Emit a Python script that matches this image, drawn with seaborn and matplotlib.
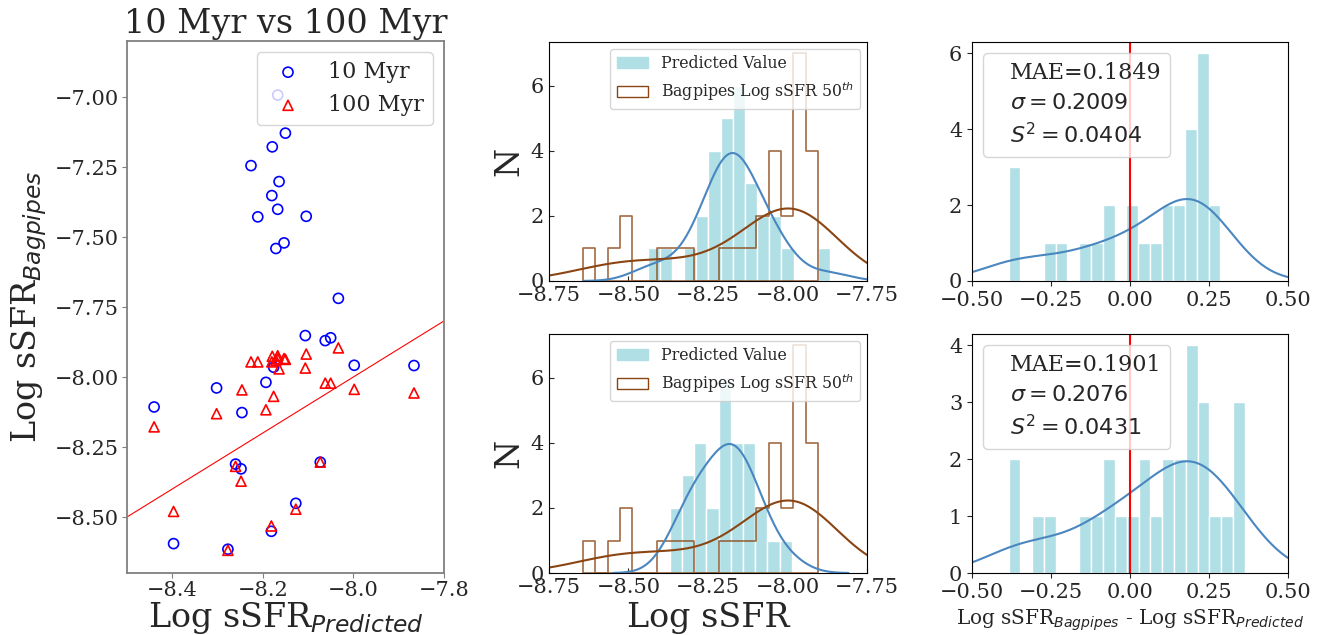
import numpy as np
import pandas as pd
import seaborn as sns
import matplotlib.pyplot as plt
from matplotlib.colors import to_rgba
from matplotlib.patches import Patch
from matplotlib.lines import Line2D

# scatter: predicted log sSFR vs bagpipes log sSFR for the two SFR timescales
pred = [-8.440, -8.397, -8.302, -8.277, -8.260, -8.248, -8.246, -8.226, -8.211, -8.193,
        -8.181, -8.180, -8.179, -8.176, -8.171, -8.167, -8.167, -8.164, -8.153, -8.150,
        -8.127, -8.106, -8.104, -8.073, -8.062, -8.050, -8.033, -7.998, -7.866]
bp_10 = [-8.107, -8.595, -8.039, -8.615, -8.311, -8.328, -8.127, -7.245, -7.428, -8.019,
         -8.551, -7.352, -7.178, -7.965, -7.541, -6.993, -7.401, -7.302, -7.521, -7.129,
         -8.451, -7.852, -7.426, -8.304, -7.870, -7.860, -7.719, -7.958, -7.959]
bp_100 = [-8.178, -8.480, -8.131, -8.619, -8.319, -8.372, -8.046, -7.946, -7.946, -8.117,
          -8.532, -7.946, -7.926, -8.069, -7.940, -7.924, -7.935, -7.971, -7.934, -7.937,
          -8.472, -7.968, -7.918, -8.304, -8.022, -8.022, -7.896, -8.044, -8.057]

# histograms
bagpipes_50 = [-8.643, -8.545, -8.515, -8.495, -8.385, -8.350, -8.310, -8.195, -8.155, -8.115,
               -8.085, -8.070, -8.050, -8.040, -8.030, -8.025, -8.005, -7.990, -7.975, -7.965,
               -7.960, -7.955, -7.950, -7.948, -7.946, -7.935, -7.925, -7.915, -7.904]
pred_100 = [-8.370, -8.345, -8.320, -8.310, -8.300, -8.285, -8.275, -8.268, -8.260, -8.240,
            -8.225, -8.210, -8.200, -8.195, -8.190, -8.185, -8.180, -8.170, -8.160, -8.155,
            -8.145, -8.135, -8.125, -8.115, -8.105, -8.090, -8.075, -8.045, -7.986]
diff_10 = [-0.384, -0.375, -0.365, -0.255, -0.215, -0.140, -0.105, -0.075, -0.060, 0.000,
           0.015, 0.045, 0.080, 0.110, 0.125, 0.150, 0.165, 0.180, 0.190, 0.200,
           0.205, 0.215, 0.220, 0.228, 0.235, 0.240, 0.245, 0.265, 0.286]
diff_100 = [-0.384, -0.370, -0.290, -0.255, -0.140, -0.105, -0.075, -0.060, -0.030, 0.010,
            0.040, 0.055, 0.085, 0.115, 0.130, 0.150, 0.165, 0.185, 0.195, 0.200,
            0.210, 0.220, 0.235, 0.245, 0.270, 0.305, 0.335, 0.350, 0.363]
stats_10 = 'MAE=0.1849\n$\\sigma=0.2009$\n$S^2=0.0404$'
stats_100 = 'MAE=0.1901\n$\\sigma=0.2076$\n$S^2=0.0431$'

LIGHT = '#b0dfe5'
KDE_BLUE = '#4a86c0'
BROWN = 'saddlebrown'

sns.set_style('ticks')
plt.rcParams['font.family'] = ['DejaVu Serif']
plt.rcParams['mathtext.fontset'] = 'dejavusans'

fig = plt.figure(figsize=(13.25, 6.35), dpi=100)

# ---- left: scatter ----
ax = fig.add_axes([0.0958, 0.0976, 0.2392, 0.8378])
sns.scatterplot(x=pred, y=bp_10, marker='o', s=52, facecolors='none', edgecolor='blue',
                linewidth=1.2, label='10 Myr', ax=ax)
sns.scatterplot(x=pred, y=bp_100, marker='^', s=52, facecolors='none', edgecolor='red',
                linewidth=1.2, label='100 Myr', ax=ax)
ax.set_xlim(-8.5, -7.8)
ax.set_ylim(-8.7, -6.8)
lo = ax.get_xlim()[0]
ax.axline((lo, lo), slope=1, color='red', linewidth=0.8)
ax.set_xticks([-8.4, -8.2, -8.0, -7.8])
ax.set_yticks([-7.0, -7.25, -7.5, -7.75, -8.0, -8.25, -8.5])
ax.set_yticklabels(['−7.00', '−7.25', '−7.50', '−7.75', '−8.00', '−8.25', '−8.50'])
ax.tick_params(labelsize=15, color='gray', pad=2)
for s in ax.spines.values():
    s.set_color('gray')
    s.set_linewidth(1.3)
ax.set_title('10 Myr vs 100 Myr', fontsize=24)
ax.set_xlabel('Log sSFR$_{Predicted}$', fontsize=24, labelpad=0)
ax.set_ylabel('Log sSFR$_{Bagpipes}$', fontsize=24)
ax.legend(loc='upper right', fontsize=16)

# ---- middle: histograms of predicted vs bagpipes ----
def mid_panel(rect, predicted, nbins, bw, xlabel):
    ax = fig.add_axes(rect)
    sns.histplot(x=predicted, bins=nbins, color=LIGHT, edgecolor='white', linewidth=1,
                 alpha=1, kde=True, kde_kws={'cut': 3, 'bw_adjust': bw},
                 line_kws={'linewidth': 1.5}, ax=ax)
    ax.lines[-1].set_color(KDE_BLUE)
    sns.histplot(x=bagpipes_50, bins=19, element='step', fill=True, color=BROWN,
                 facecolor='none', edgecolor=to_rgba(BROWN, 0.8), linewidth=1.2,
                 kde=True, kde_kws={'cut': 3, 'bw_adjust': 1.2},
                 line_kws={'linewidth': 1.5}, ax=ax)
    ax.set_xlim(-8.75, -7.75)
    ax.set_xticks([-8.75, -8.5, -8.25, -8.0, -7.75])
    ax.set_yticks([0, 2, 4, 6])
    ax.tick_params(direction='in', labelsize=15)
    for s in ax.spines.values():
        s.set_color('black')
    ax.set_ylabel('N', fontsize=24)
    ax.set_xlabel(xlabel, fontsize=24)
    handles = [Patch(facecolor=LIGHT, edgecolor=LIGHT),
               Patch(facecolor='none', edgecolor=BROWN)]
    ax.legend(handles, ['Predicted Value', 'Bagpipes Log sSFR 50$^{th}$'],
              loc='upper right', fontsize=11.3, borderaxespad=0.45)
    return ax

mid_panel([0.4143, 0.5575, 0.24, 0.3764], pred, 15, 1.15, '')
mid_panel([0.4143, 0.0976, 0.24, 0.3764], pred_100, 10, 1.25, 'Log sSFR')

# ---- right: residual histograms ----
def right_panel(rect, diff, nbins, text, xlabel):
    ax = fig.add_axes(rect)
    sns.histplot(x=diff, bins=nbins, color=LIGHT, edgecolor='white', linewidth=1,
                 alpha=1, kde=True, kde_kws={'cut': 3, 'bw_adjust': 1.07},
                 line_kws={'linewidth': 1.5}, ax=ax)
    ax.lines[-1].set_color(KDE_BLUE)
    ax.axvline(0, color='red', linewidth=1.5)
    ax.set_xlim(-0.5, 0.5)
    ax.set_xticks([-0.5, -0.25, 0.0, 0.25, 0.5])
    ax.tick_params(labelsize=15)
    for s in ax.spines.values():
        s.set_color('black')
    ax.set_ylabel('')
    ax.set_xlabel(xlabel, fontsize=14.4)
    leg = ax.legend([Line2D([], [], linestyle='none')], [text], loc='upper left',
                    fontsize=16, handlelength=0)
    leg.get_texts()[0].set_linespacing(1.45)
    return ax

right_panel([0.7336, 0.5575, 0.2385, 0.3764], diff_10, 18, stats_10, '')
right_panel([0.7336, 0.0976, 0.2385, 0.3764], diff_100, 20, stats_100,
            'Log sSFR$_{Bagpipes}$ - Log sSFR$_{Predicted}$')

fig.savefig('out.png', dpi=100)
